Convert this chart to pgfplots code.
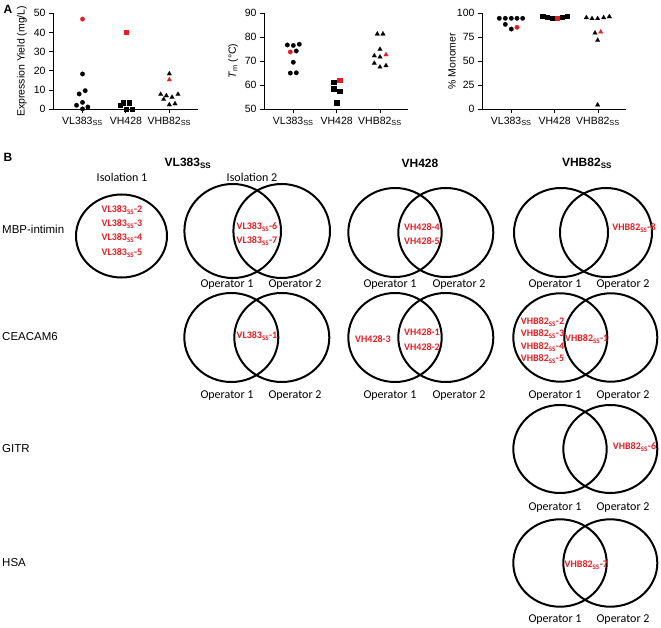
\documentclass[border=0pt]{standalone}
\usepackage{fontspec}
\setmainfont{Liberation Sans}
\newfontfamily\calib{Carlito}
\usepackage{pgfplots}
\pgfplotsset{compat=1.18}
\definecolor{pred}{RGB}{230,30,36}
\pgfplotsset{
 prism/.style={
   scale only axis, height=96pt, anchor=south west,
   axis lines=left, axis line style={-, line width=0.9pt},
   tick align=outside, major tick length=4pt,
   every tick/.style={black, line width=0.9pt},
   xtick={1,2,3},
   xticklabels={VL383\textsubscript{SS},VH428,VHB82\textsubscript{SS}},
   tick label style={font=\fontsize{10.5}{12}\selectfont},
   label style={font=\fontsize{10.5}{12}\selectfont},
   /pgf/number format/assume math mode=true,
   clip=false,
 },
 bk/.style={only marks, mark options={fill=black, draw=black, line width=0.1pt}},
 rd/.style={only marks, mark options={fill=pred, draw=pred, line width=0.1pt}},
 ci/.style={mark=*, mark size=2.3pt},
 sq/.style={mark=square*, mark size=2.2pt},
 tr/.style={mark=triangle*, mark size=2.7pt},
}
\newcommand{\rl}[3]{\node[text=pred,font=\calib\bfseries\fontsize{10}{12}\selectfont, inner sep=0pt] at (axis cs:#1,-#2) {#3};}
\newcommand{\op}[3]{\node[font=\calib\fontsize{12}{14}\selectfont, inner sep=0pt] at (axis cs:#1,-#2) {#3};}
\newcommand{\el}[4]{\draw[line width=2pt] (axis cs:#1,-#2) ellipse [x radius=#3, y radius=#4];}
\begin{document}
\begin{tikzpicture}
\path[use as bounding box] (0,0) rectangle (661pt,-628pt);
\node[font=\bfseries\fontsize{12}{14}\selectfont] at (8pt,-9pt) {A};
\node[font=\bfseries\fontsize{12}{14}\selectfont] at (8pt,-157pt) {B};
% Plot 1
\begin{axis}[prism, at={(53pt,-109.3pt)}, width=145pt, xmin=0.32, xmax=3.66,
  ymin=0, ymax=50, ytick={0,10,20,30,40,50},
  ylabel={Expression Yield (mg/L)},
  ylabel style={at={(axis description cs:-0.214,0.5)}, anchor=center}]
\addplot[bk, ci] coordinates {(1.0,18.4) (0.923,8.0) (1.062,9.7) (1.0,3.6) (0.862,2.1) (1.123,1.2) (1.0,0.2)};
\addplot[rd, ci] coordinates {(1.0,47.0)};
\addplot[bk, sq] coordinates {(1.869,2.2) (1.931,3.6) (2.069,3.5) (2.0,0.2) (2.138,0.2)};
\addplot[rd, sq] coordinates {(2.0,40.1)};
\addplot[bk, tr] coordinates {(3.0,18.5) (2.8,7.8) (2.931,7.1) (3.062,6.3) (3.2,7.8) (2.869,5.2) (3.0,2.4) (3.131,2.9)};
\addplot[rd, tr] coordinates {(3.0,15.4)};
\end{axis}
% Plot 2
\begin{axis}[prism, at={(264pt,-109.3pt)}, width=144pt, xmin=0.324, xmax=3.646,
  ymin=50, ymax=90, ytick={50,60,70,80,90},
  ylabel={\textit{T}\textsubscript{m} (°C)},
  ylabel style={at={(axis description cs:-0.215,0.5)}, anchor=center}]
\addplot[bk, ci] coordinates {(0.862,76.8) (1.0,76.6) (1.138,77.1) (1.069,74.3) (1.0,69.6) (0.931,65.1) (1.069,65.2)};
\addplot[rd, ci] coordinates {(0.931,73.9)};
\addplot[bk, sq] coordinates {(1.931,61.4) (1.931,58.7) (2.069,57.5) (2.0,52.75)};
\addplot[rd, sq] coordinates {(2.069,62.2)};
\addplot[bk, tr] coordinates {(2.938,81.4) (3.069,81.4) (3.0,75.0) (2.869,72.3) (3.0,71.8) (2.869,69.2) (3.0,67.6) (3.138,68.2)};
\addplot[rd, tr] coordinates {(3.138,72.75)};
\end{axis}
% Plot 3
\begin{axis}[prism, at={(482pt,-109.3pt)}, width=144pt, xmin=0.324, xmax=3.646,
  ymin=0, ymax=100, ytick={0,25,50,75,100},
  ylabel={\% Monomer},
  ylabel style={at={(axis description cs:-0.208,0.5)}, anchor=center}]
\addplot[bk, ci] coordinates {(0.723,94.8) (0.862,94.8) (1.0,94.8) (1.131,94.8) (1.262,94.8) (0.862,88.5) (1.0,83.6)};
\addplot[rd, ci] coordinates {(1.131,85.4)};
\addplot[bk, sq] coordinates {(1.723,96.9) (1.831,96.2) (1.938,94.8) (2.169,95.8) (2.285,96.9)};
\addplot[rd, sq] coordinates {(2.054,95.1)};
\addplot[bk, tr] coordinates {(2.731,95.5) (2.862,94.5) (2.992,94.5) (3.131,95.5) (3.262,96.5) (2.931,79.5) (2.992,71.9) (2.992,4.5)};
\addplot[rd, tr] coordinates {(3.062,80.5)};
\end{axis}
% Panel B
\begin{axis}[hide axis, scale only axis, width=661pt, height=628pt,
  xmin=0, xmax=661, ymin=-628, ymax=0, at={(0pt,0pt)}, anchor=north west, clip=false]
\addplot[draw=none, forget plot] coordinates {(0,0)};
\node[font=\bfseries\fontsize{12}{14}\selectfont] at (axis cs:188,-163) {VL383\textsubscript{SS}};
\node[font=\bfseries\fontsize{12}{14}\selectfont] at (axis cs:420,-163) {VH428};
\node[font=\bfseries\fontsize{12}{14}\selectfont] at (axis cs:587,-163) {VHB82\textsubscript{SS}};
\node[font=\fontsize{11.5}{13}\selectfont, anchor=west, inner sep=0pt] at (axis cs:2,-229) {MBP-intimin};
\node[font=\fontsize{11.5}{13}\selectfont, anchor=west, inner sep=0pt] at (axis cs:2,-337) {CEACAM6};
\node[font=\fontsize{11.5}{13}\selectfont, anchor=west, inner sep=0pt] at (axis cs:2,-449) {GITR};
\node[font=\fontsize{11.5}{13}\selectfont, anchor=west, inner sep=0pt] at (axis cs:2,-563) {HSA};
\op{122}{177}{Isolation 1}
\op{252}{177}{Isolation 2}
% row 1
\el{121.5}{236}{45.5}{41.5}
\el{232.7}{231}{48.3}{47}
\el{281.7}{231}{48.3}{47}
\el{395}{232.5}{46.7}{44.5}
\el{445.8}{232.5}{47.5}{44.5}
\el{561}{232.5}{47}{44.5}
\el{606}{232.5}{46}{44.5}
\op{227}{285}{Operator 1}\op{295}{285}{Operator 2}
\op{390}{285}{Operator 1}\op{459}{285}{Operator 2}
\op{555}{285}{Operator 1}\op{623}{285}{Operator 2}
\rl{122}{210}{VL383\textsubscript{SS}-2}
\rl{122}{224}{VL383\textsubscript{SS}-3}
\rl{122}{238}{VL383\textsubscript{SS}-4}
\rl{122}{253}{VL383\textsubscript{SS}-5}
\rl{257}{227}{VL383\textsubscript{SS}-6}
\rl{257}{241}{VL383\textsubscript{SS}-7}
\rl{422}{227}{VH428-4}
\rl{422}{241}{VH428-5}
\rl{634}{228}{VHB82\textsubscript{SS}-8}
% row 2
\el{231.3}{337.5}{47}{44.5}
\el{281.8}{337.5}{47.5}{44.5}
\el{395}{337.5}{46.7}{44.5}
\el{445.8}{337.5}{47.5}{44.5}
\el{560.3}{337.5}{47}{44.2}
\el{610.8}{337.5}{46.5}{44.2}
\op{227}{396}{Operator 1}\op{295}{396}{Operator 2}
\op{390}{396}{Operator 1}\op{459}{396}{Operator 2}
\op{555}{396}{Operator 1}\op{623}{396}{Operator 2}
\rl{257}{336}{VL383\textsubscript{SS}-1}
\rl{373}{339}{VH428-3}
\rl{422}{332}{VH428-1}
\rl{422}{347}{VH428-2}
\rl{542.5}{322}{VHB82\textsubscript{SS}-2}
\rl{542.5}{334}{VHB82\textsubscript{SS}-3}
\rl{542.5}{347}{VHB82\textsubscript{SS}-4}
\rl{542.5}{359}{VHB82\textsubscript{SS}-5}
\rl{586.7}{339}{VHB82\textsubscript{SS}-1}
% row 3
\el{560}{449}{46.7}{44}
\el{610.3}{449}{47}{44}
\op{555}{508}{Operator 1}\op{623}{508}{Operator 2}
\rl{634.5}{447}{VHB82\textsubscript{SS}-6}
% row 4
\el{560}{563}{46.7}{43.7}
\el{610.3}{563}{47}{43.7}
\op{555}{620}{Operator 1}\op{623}{620}{Operator 2}
\rl{586.3}{565}{VHB82\textsubscript{SS}-7}
\end{axis}
\end{tikzpicture}
\end{document}
